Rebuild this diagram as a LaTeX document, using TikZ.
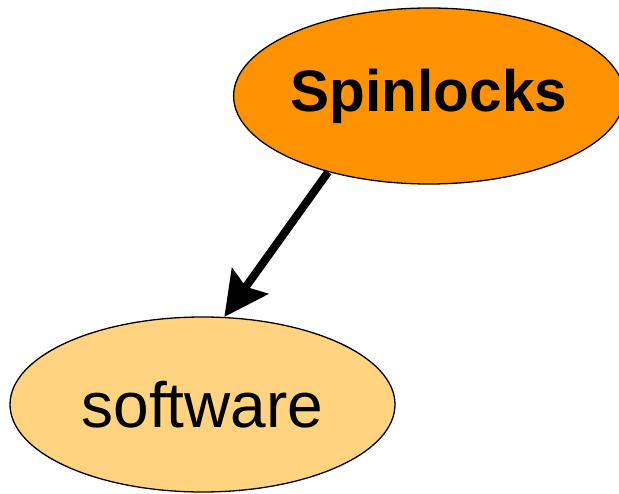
\documentclass[tikz,border=0pt]{standalone}
\usepackage{fontspec}
\setmainfont{Liberation Sans}
\usetikzlibrary{shapes.geometric,arrows.meta}
\definecolor{darkor}{HTML}{FF9200}
\definecolor{lightor}{HTML}{FFD37F}
\tikzset{
  blob/.style={ellipse, draw=black, line width=1.3pt, inner sep=0pt},
  conn/.style={line width=8pt, -{Stealth[length=44pt,width=44pt,inset=7pt]}}
}
\begin{document}
\begin{tikzpicture}[x=1pt,y=-1pt]
\useasboundingbox (0,0) rectangle (619,494);
\node[blob, fill=darkor, minimum width=380pt, minimum height=176pt] (s) at (429,96)
  {\raisebox{-3pt}{\fontsize{58.5}{60}\selectfont\bfseries Spinlocks}};
\node[blob, fill=lightor, minimum width=385pt, minimum height=175pt] (w) at (202.5,404.5)
  {\fontsize{64}{66}\selectfont software};
\draw[conn] (s.217.8) -- (w.76.9);
\end{tikzpicture}
\end{document}
